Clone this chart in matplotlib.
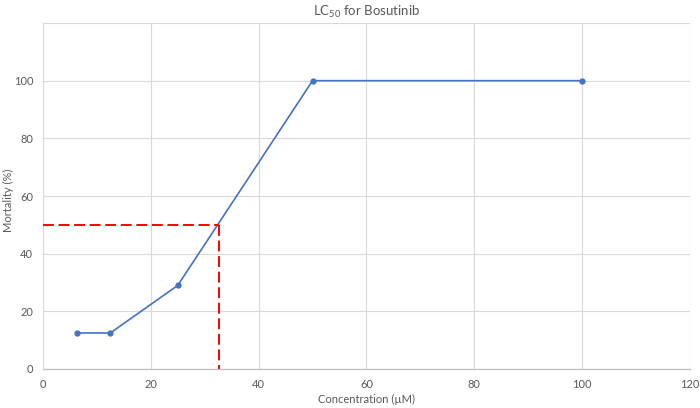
import matplotlib
matplotlib.use("Agg")
import matplotlib.pyplot as plt

plt.rcParams["font.family"] = ["Lato", "DejaVu Sans"]

# data
conc_um = [6.25, 12.5, 25, 50, 100]
mortality_pct = [12.5, 12.5, 29, 100, 100]
lc50_x = 32.6
lc50_y = 50

x_ticks = [0, 20, 40, 60, 80, 100, 120]
y_ticks = [0, 20, 40, 60, 80, 100]

TEXT = "#595959"
GRID = "#d9d9d9"

fig = plt.figure(figsize=(7.0, 4.08), dpi=100)
ax = fig.add_axes([0.0614, 0.0956, 0.9243, 0.848])

ax.plot(conc_um, mortality_pct, color="#4472C4", lw=1.2,
        marker="o", ms=3.5, zorder=3)

# LC50 guide lines
ax.plot([0, lc50_x], [lc50_y, lc50_y], color="#FF0000", lw=1.4,
        dashes=(5.6, 2.4), zorder=4)
ax.plot([lc50_x, lc50_x], [lc50_y, 0], color="#FF0000", lw=1.4,
        dashes=(5.6, 2.4), zorder=4)

ax.set_xlim(0, 120)
ax.set_ylim(0, 120)
ax.set_xticks(x_ticks)
ax.set_yticks(y_ticks)
for v in x_ticks:
    ax.axvline(v, color=GRID, lw=0.8, zorder=0)
for v in y_ticks + [120]:
    ax.axhline(v, color=GRID, lw=0.8, zorder=0)

for side in ["top", "right", "left"]:
    ax.spines[side].set_visible(False)
ax.spines["bottom"].set_color("#bfbfbf")
ax.spines["bottom"].set_linewidth(0.9)
ax.tick_params(length=0, labelsize=8, colors=TEXT, pad=7)

ax.set_xlabel("Concentration (\u00b5M)", fontsize=8, color=TEXT, labelpad=3)
# y label placed in figure coords so it stays inside the left edge
fig.text(8 / 700, 0.51, "Mortality (%)", rotation=90, ha="center", va="center",
         fontsize=8, color=TEXT)
ax.set_title(r"LC$_{\mathregular{50}}$ for Bosutinib", fontsize=9.5, color=TEXT, pad=5)

fig.savefig("out.png", dpi=100)
